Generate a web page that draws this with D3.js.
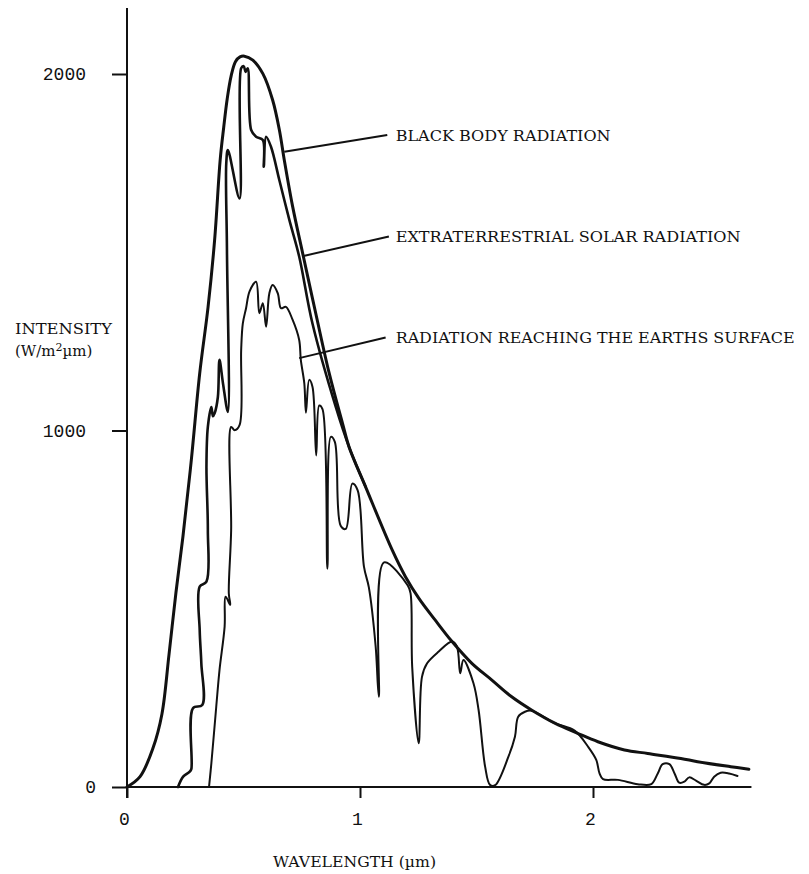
<!DOCTYPE html>
<html>
<head>
<meta charset="utf-8">
<script src="https://cdn.jsdelivr.net/npm/d3@7"></script>
<style>
  body { margin: 0; background: #fff; }
  svg { display: block; }
  .curve { fill: none; stroke: #111; stroke-linejoin: round; stroke-linecap: round; }
  .axis line, .axis path { stroke: #111; stroke-width: 2; }
  .axis text { font-family: "Liberation Mono", monospace; font-size: 18px; fill: #111; }
  .lbl { font-family: "DejaVu Serif", serif; font-size: 15px; fill: #111; }
</style>
</head>
<body>
<div id="chart"></div>
<script>
// spectra: [wavelength (um), intensity (W/m2 um)]
const blackBody = [
  [0,0],[0.056,29],[0.112,110],[0.15,205],[0.18,370],[0.21,545],[0.24,702],[0.276,917],
  [0.312,1160],[0.348,1347],[0.376,1534],[0.40,1760],[0.415,1850],[0.43,1930],[0.447,1995],
  [0.466,2035],[0.485,2048],[0.504,2050],[0.54,2039],[0.583,2001],[0.625,1927],[0.654,1843],
  [0.675,1759],[0.711,1628],[0.754,1497],[0.81,1329],[0.868,1160],[0.925,1020],[0.953,954],
  [1.024,842],[1.138,665],[1.195,590],[1.252,530],[1.323,468],[1.395,408],[1.48,347],
  [1.566,300],[1.651,253],[1.736,216],[1.836,179],[1.936,150],[2.021,127],[2.135,104],
  [2.235,94],[2.377,80],[2.449,71],[2.591,57],[2.669,50]
];

const extraterrestrial = [
  [0.219,0],[0.241,29],[0.269,43],[0.276,50],[0.283,221],[0.323,230],[0.319,347],[0.312,440],
  [0.312,562],[0.341,576],[0.347,721],[0.341,900],[0.347,1010],[0.362,1066],[0.369,1040],
  [0.376,1048],[0.39,1094],[0.397,1198],[0.412,1132],[0.433,1052],[0.429,1506],[0.426,1749],
  [0.433,1787],[0.483,1651],[0.49,2016],[0.501,2022],[0.509,2006],[0.518,2016],[0.533,1843],
  [0.554,1824],[0.583,1815],[0.587,1740],[0.597,1824],[0.618,1796],[0.654,1702],[0.697,1590],
  [0.739,1488],[0.796,1300],[0.896,1066],[0.953,954],[1.024,842]
];

const surface = [
  [0.352,0],[0.362,66],[0.383,225],[0.397,328],[0.419,450],[0.423,534],[0.443,511],[0.437,543],
  [0.447,721],[0.447,1010],[0.462,1001],[0.483,1015],[0.49,1226],[0.497,1300],[0.511,1343],
  [0.526,1390],[0.554,1417],[0.568,1329],[0.583,1357],[0.597,1291],[0.611,1385],[0.625,1408],
  [0.647,1385],[0.661,1343],[0.682,1347],[0.711,1310],[0.739,1254],[0.746,1198],[0.761,1132],
  [0.768,1050],[0.782,1142],[0.796,1123],[0.812,930],[0.825,1070],[0.839,1060],[0.86,612],
  [0.875,982],[0.892,968],[0.917,733],[0.939,724],[0.967,851],[0.99,832],[1.017,618],
  [1.038,560],[1.067,396],[1.081,253],[1.103,630],[1.205,565],[1.217,543],[1.224,337],
  [1.252,123],[1.266,309],[1.288,347],[1.338,380],[1.395,408],[1.416,394],[1.43,319],
  [1.444,356],[1.487,291],[1.509,216],[1.537,57],[1.558,6],[1.58,5],[1.637,85],[1.665,141],
  [1.679,197],[1.708,211],[1.736,214],[1.836,179],[1.921,158],[1.979,113],[2.014,76],
  [2.028,38],[2.043,22],[2.107,20],[2.192,8],[2.25,8],[2.278,38],[2.299,64],[2.328,64],
  [2.35,38],[2.37,12],[2.392,15],[2.413,27],[2.442,18],[2.477,6],[2.499,10],[2.52,29],
  [2.548,40],[2.584,38],[2.62,31]
];

const yTicks = [0, 1000, 2000];
const xTicks = [0, 1, 2];

const labels = ["BLACK BODY RADIATION", "EXTRATERRESTRIAL SOLAR RADIATION", "RADIATION REACHING THE EARTHS SURFACE"];
// leader start on the curve, leader end, text anchor (data units)
const leaderFrom = [[0.675,1782],[0.753,1489],[0.739,1203]];
const leaderTo   = [[1.117,1829],[1.124,1544],[1.11,1261]];
const textAt     = [[1.153,1812],[1.153,1530],[1.153,1246]];
const textLen    = [215, 345, 399];

const W = 809, H = 874;
const svg = d3.select("#chart").append("svg").attr("width", W).attr("height", H);

const x = d3.scaleLinear().domain([0, 2]).range([127, 593]);
const y = d3.scaleLinear().domain([0, 2000]).range([787, 74]);

// axes
const gy = svg.append("g").attr("class", "axis")
  .attr("transform", `translate(${x(0)},0)`)
  .call(d3.axisLeft(y).tickValues(yTicks).tickSize(15).tickPadding(26).tickFormat(d3.format("d")));
gy.select(".domain").remove();
gy.selectAll(".tick text").filter(d => d === 0).attr("dx", 10);

const gx = svg.append("g").attr("class", "axis")
  .attr("transform", `translate(0,${y(0)})`)
  .call(d3.axisBottom(x).tickValues(xTicks).tickSize(11).tickPadding(14).tickFormat(d3.format("d")));
gx.select(".domain").remove();
gx.selectAll(".tick text").attr("dx", -3);

svg.append("line")
  .attr("x1", x(0)).attr("x2", x(0)).attr("y1", y(2185)).attr("y2", y(-31))
  .attr("stroke", "#111").attr("stroke-width", 2);
svg.append("line")
  .attr("x1", x(0)).attr("x2", x(2.68)).attr("y1", y(0)).attr("y2", y(0))
  .attr("stroke", "#111").attr("stroke-width", 2);

// curves
const line = d3.line()
  .x(d => x(d[0]))
  .y(d => y(d[1]))
  .curve(d3.curveCatmullRom.alpha(0.5));

svg.append("path").attr("class", "curve").attr("d", line(surface)).attr("stroke-width", 2);
svg.append("path").attr("class", "curve").attr("d", line(extraterrestrial)).attr("stroke-width", 2.6);
svg.append("path").attr("class", "curve").attr("d", line(blackBody)).attr("stroke-width", 3);

// annotations
labels.forEach((t, i) => {
  svg.append("line")
    .attr("x1", x(leaderFrom[i][0])).attr("y1", y(leaderFrom[i][1]))
    .attr("x2", x(leaderTo[i][0])).attr("y2", y(leaderTo[i][1]))
    .attr("stroke", "#111").attr("stroke-width", 2);
  svg.append("text").attr("class", "lbl")
    .attr("x", x(textAt[i][0])).attr("y", y(textAt[i][1]))
    .attr("textLength", textLen[i]).attr("lengthAdjust", "spacingAndGlyphs")
    .text(t);
});

// axis titles
svg.append("text").attr("class", "lbl")
  .attr("x", 15).attr("y", 334).attr("textLength", 97).attr("lengthAdjust", "spacingAndGlyphs")
  .text("INTENSITY");
const unit = svg.append("text").attr("class", "lbl").attr("x", 15).attr("y", 356);
unit.append("tspan").text("(W/m");
unit.append("tspan").attr("dy", -5).attr("font-size", 11).text("2");
unit.append("tspan").attr("dy", 5).text("µm)");

svg.append("text").attr("class", "lbl")
  .attr("x", 273).attr("y", 867).attr("textLength", 163).attr("lengthAdjust", "spacingAndGlyphs")
  .text("WAVELENGTH (µm)");
</script>
</body>
</html>
